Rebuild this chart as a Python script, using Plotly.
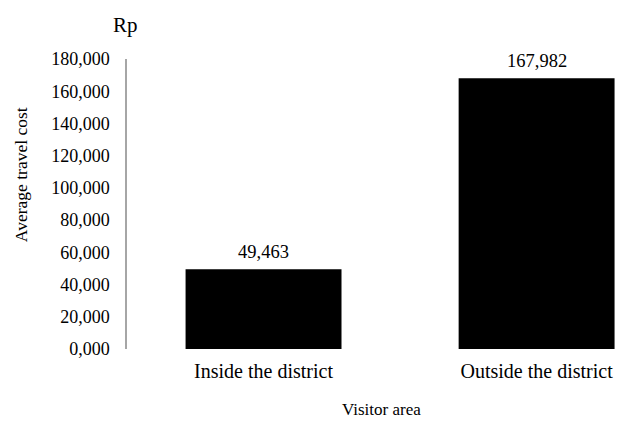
import plotly.graph_objects as go

# Average travel cost by visitor area
categories = ["Inside the district", "Outside the district"]
avg_cost = [49463, 167982]
value_labels = ["49,463", "167,982"]
tick_vals = [0, 20000, 40000, 60000, 80000, 100000, 120000, 140000, 160000, 180000]
tick_text = ["0,000", "20,000", "40,000", "60,000", "80,000", "100,000",
             "120,000", "140,000", "160,000", "180,000"]

FONT = "Liberation Serif, Times New Roman, serif"

fig = go.Figure(
    go.Bar(
        x=categories,
        y=avg_cost,
        width=0.571,
        marker=dict(color="#000000", line=dict(width=0)),
        hoverinfo="x+y",
    )
)

# value labels above the bars
annotations = [
    dict(x=c, y=v, xref="x", yref="y", text=t, showarrow=False,
         xanchor="center", yanchor="bottom", yshift=5,
         font=dict(family=FONT, size=18.5, color="#000000"))
    for c, v, t in zip(categories, avg_cost, value_labels)
]

annotations += [
    dict(text="Rp", xref="paper", yref="paper", x=-0.003, y=1.117,
         xanchor="center", yanchor="middle", showarrow=False,
         font=dict(family=FONT, size=21, color="#000000")),
    dict(text="Visitor area", xref="paper", yref="paper", x=0.5, y=-0.21,
         xanchor="center", yanchor="middle", showarrow=False,
         font=dict(family=FONT, size=17, color="#000000")),
    dict(text="Average travel cost", xref="paper", yref="paper", x=-0.208, y=0.6,
         xanchor="center", yanchor="middle", textangle=-90, showarrow=False,
         font=dict(family=FONT, size=17.5, color="#000000")),
]

fig.update_layout(
    width=636,
    height=424,
    margin=dict(l=127, r=0, t=59, b=75),
    paper_bgcolor="white",
    plot_bgcolor="white",
    font=dict(family=FONT, size=18, color="#000000"),
    showlegend=False,
    annotations=annotations,
)

fig.update_xaxes(
    type="category",
    range=[-0.5, 1.364],
    showline=False,
    showgrid=False,
    ticks="outside",
    ticklen=4,
    tickcolor="rgba(0,0,0,0)",
    tickfont=dict(family=FONT, size=20),
)

fig.update_yaxes(
    range=[0, 180000],
    tickvals=tick_vals,
    ticktext=tick_text,
    showgrid=False,
    zeroline=False,
    showline=True,
    linecolor="#A6A6A6",
    linewidth=1.5,
    ticks="outside",
    ticklen=12,
    tickcolor="rgba(0,0,0,0)",
    tickfont=dict(family=FONT, size=18),
)

fig.write_html("out.html")
